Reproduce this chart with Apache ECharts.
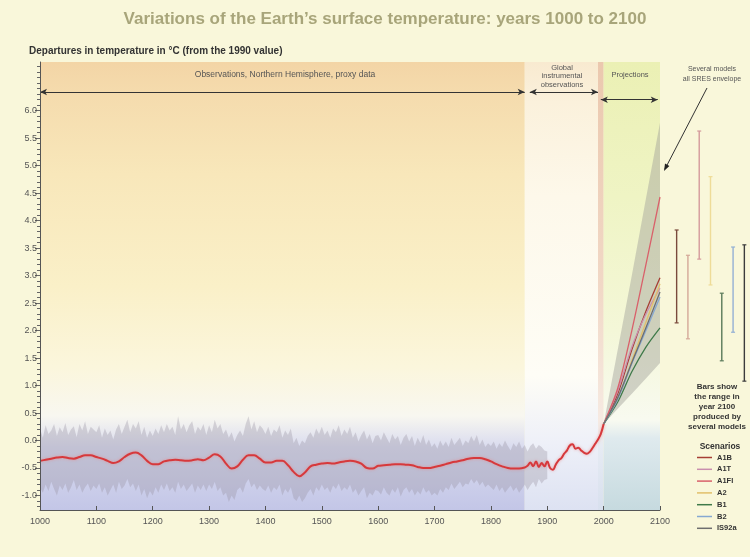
<!DOCTYPE html>
<html><head><meta charset="utf-8">
<script src="https://cdn.jsdelivr.net/npm/echarts@6/dist/echarts.min.js"></script>
<style>html,body{margin:0;padding:0;background:#f9f7da}#c{width:750px;height:557px}</style>
</head><body><div id="c"></div>
<script>
// ---------- DATA ----------
const yTicks = [-1.0,-0.5,0.0,0.5,1.0,1.5,2.0,2.5,3.0,3.5,4.0,4.5,5.0,5.5,6.0];
const xTicksInterval = 100;

// Smoothed proxy (1000-1860) + instrumental (1865-2000) record
const obsYears = [
 1000,1010,1020,1030,1040,1050,1060,1070,1080,1090,
 1100,1110,1120,1130,1140,1150,1160,1170,1180,1190,
 1200,1210,1220,1230,1240,1250,1260,1270,1280,1290,
 1300,1310,1320,1330,1340,1350,1360,1370,1380,1390,
 1400,1410,1420,1430,1440,1450,1460,1470,1480,1490,
 1500,1510,1520,1530,1540,1550,1560,1570,1580,1590,
 1600,1610,1620,1630,1640,1650,1660,1670,1680,1690,
 1700,1710,1720,1730,1740,1750,1760,1770,1780,1790,
 1800,1810,1820,1830,1840,1850,1860,
 1865,1870,1875,1880,1885,1890,1895,1900,1905,1910,1915,1920,1925,1930,
 1935,1940,1945,1950,1955,1960,1965,1970,1975,1980,1985,1990,1995,2000];
const obsTemp = [
 -0.37,-0.35,-0.33,-0.31,-0.30,-0.32,-0.33,-0.30,-0.27,-0.27,
 -0.30,-0.33,-0.37,-0.41,-0.38,-0.30,-0.24,-0.22,-0.27,-0.37,
 -0.43,-0.43,-0.38,-0.36,-0.35,-0.36,-0.37,-0.36,-0.34,-0.36,
 -0.31,-0.25,-0.29,-0.42,-0.51,-0.47,-0.35,-0.27,-0.27,-0.33,
 -0.40,-0.40,-0.37,-0.37,-0.45,-0.57,-0.65,-0.58,-0.47,-0.44,
 -0.42,-0.41,-0.42,-0.40,-0.38,-0.37,-0.38,-0.42,-0.50,-0.51,
 -0.46,-0.45,-0.44,-0.43,-0.43,-0.44,-0.45,-0.48,-0.50,-0.50,
 -0.48,-0.46,-0.43,-0.40,-0.38,-0.36,-0.33,-0.32,-0.32,-0.34,
 -0.38,-0.43,-0.47,-0.50,-0.51,-0.51,-0.49,
 -0.46,-0.40,-0.47,-0.38,-0.48,-0.41,-0.47,-0.38,-0.50,-0.53,-0.44,-0.36,-0.32,-0.24,
 -0.18,-0.09,-0.07,-0.15,-0.13,-0.18,-0.22,-0.24,-0.21,-0.14,-0.06,0.02,0.12,0.30];

// Uncertainty band of proxy record (upper / lower edge)
const bandYears = [
 1000,1005,1010,1015,1020,1025,1030,1035,1040,1045,1050,1055,1060,1065,1070,1075,1080,1085,1090,1095,
 1100,1105,1110,1115,1120,1125,1130,1135,1140,1145,1150,1155,1160,1165,1170,1175,1180,1185,1190,1195,
 1200,1205,1210,1215,1220,1225,1230,1235,1240,1245,1250,1255,1260,1265,1270,1275,1280,1285,1290,1295,
 1300,1305,1310,1315,1320,1325,1330,1335,1340,1345,1350,1355,1360,1365,1370,1375,1380,1385,1390,1395,
 1400,1405,1410,1415,1420,1425,1430,1435,1440,1445,1450,1455,1460,1465,1470,1475,1480,1485,1490,1495,
 1500,1505,1510,1515,1520,1525,1530,1535,1540,1545,1550,1555,1560,1565,1570,1575,1580,1585,1590,1595,
 1600,1605,1610,1615,1620,1625,1630,1635,1640,1645,1650,1655,1660,1665,1670,1675,1680,1685,1690,1695,
 1700,1705,1710,1715,1720,1725,1730,1735,1740,1745,1750,1755,1760,1765,1770,1775,1780,1785,1790,1795,
 1800,1805,1810,1815,1820,1825,1830,1835,1840,1845,1850,1855,1860,1865,1870,1875,1880,1885,1890,1895,
 1900];
const bandHigh = [
 0.22,0.05,0.28,0.12,0.18,0.30,0.08,0.24,0.15,0.32,0.10,0.20,0.26,0.06,0.30,0.18,0.35,0.12,0.25,0.20,
 0.15,0.28,0.05,0.22,0.10,0.18,0.02,0.20,0.30,0.12,0.25,0.38,0.15,0.30,0.22,0.35,0.10,0.25,0.05,0.18,
 0.08,0.22,0.12,0.28,0.15,0.30,0.18,0.25,0.10,0.44,0.20,0.30,0.15,0.28,0.35,0.12,0.25,0.18,0.30,0.10,
 0.28,0.15,0.38,0.22,0.30,0.12,0.20,0.05,0.15,-0.02,0.10,0.18,0.08,0.30,0.44,0.20,0.35,0.15,0.28,0.22,
 0.12,0.25,0.08,0.20,0.15,0.28,0.05,0.18,0.10,0.22,-0.05,0.05,-0.10,0.00,-0.05,0.08,0.15,0.05,0.22,0.12,
 0.25,0.10,0.18,0.05,0.22,0.15,0.28,0.08,0.20,0.12,0.25,0.05,0.15,-0.02,0.10,0.18,0.02,0.12,-0.05,0.08,
 0.10,0.00,0.15,0.05,-0.05,0.12,0.02,0.08,-0.08,0.05,0.12,-0.02,0.08,-0.10,0.05,-0.05,0.10,-0.08,0.02,-0.12,
 -0.05,-0.15,0.00,-0.10,-0.02,-0.12,0.05,-0.08,-0.02,0.05,-0.10,0.00,-0.05,0.08,-0.02,0.10,-0.08,0.02,-0.12,-0.05,
 -0.10,-0.02,-0.15,-0.05,-0.12,0.00,-0.10,-0.18,-0.05,-0.12,-0.02,-0.15,-0.08,-0.20,-0.10,-0.05,-0.15,-0.08,-0.12,-0.18,
 -0.20];
const bandLow = [
 -0.85,-0.95,-0.80,-0.92,-0.75,-0.88,-1.00,-0.82,-0.90,-0.78,-0.95,-0.85,-0.72,-0.90,-0.80,-0.95,-0.85,-0.78,-0.92,-0.82,
 -0.88,-0.78,-0.95,-0.85,-1.00,-0.90,-0.80,-0.95,-0.75,-0.88,-0.82,-0.70,-0.85,-0.78,-0.92,-0.80,-1.00,-0.88,-1.05,-0.92,
 -1.00,-0.85,-0.95,-0.80,-0.90,-0.78,-0.92,-0.85,-0.95,-0.75,-0.88,-0.80,-0.92,-0.85,-0.78,-0.95,-0.82,-0.90,-0.80,-0.92,
 -0.80,-0.88,-0.75,-0.92,-0.85,-1.00,-0.95,-1.12,-1.00,-1.08,-0.90,-0.85,-0.95,-0.78,-0.70,-0.85,-0.78,-0.90,-0.82,-0.88,
 -0.92,-0.82,-0.95,-0.85,-0.90,-0.80,-1.00,-0.88,-0.95,-0.85,-1.05,-1.10,-1.00,-1.12,-1.05,-0.95,-0.88,-1.00,-0.85,-0.92,
 -0.80,-0.90,-0.85,-0.95,-0.82,-0.88,-0.78,-0.92,-0.85,-0.90,-0.80,-0.95,-0.88,-1.00,-0.92,-0.85,-1.05,-0.95,-1.00,-0.90,
 -0.92,-0.98,-0.85,-0.95,-1.00,-0.88,-0.95,-0.85,-1.02,-0.90,-0.85,-0.95,-0.88,-1.00,-0.92,-0.98,-0.85,-0.95,-0.90,-1.00,
 -0.95,-1.00,-0.88,-0.95,-0.85,-0.90,-0.78,-0.88,-0.82,-0.75,-0.85,-0.78,-0.80,-0.70,-0.78,-0.72,-0.82,-0.75,-0.85,-0.80,
 -0.85,-0.90,-0.80,-0.92,-0.85,-0.95,-0.88,-0.82,-0.92,-0.85,-0.95,-0.88,-0.80,-0.90,-0.82,-0.75,-0.85,-0.70,-0.78,-0.72,
 -0.70];

// Projections 2000-2100
const projYears = [2000, 2025, 2050, 2075, 2100];
const scenarios = ['A1B','A1T','A1FI','A2','B1','B2','IS92a'];
const projA1B  = [0.30, 0.85, 1.65, 2.35, 2.96];
const projA1T  = [0.30, 0.90, 1.70, 2.30, 2.77];
const projA1FI = [0.30, 0.95, 2.00, 3.20, 4.43];
const projA2   = [0.30, 0.75, 1.45, 2.15, 2.85];
const projB1   = [0.30, 0.70, 1.25, 1.70, 2.05];
const projB2   = [0.30, 0.75, 1.40, 2.00, 2.61];
const projIS92a= [0.30, 0.78, 1.42, 2.05, 2.70];
const envHigh  = [0.30, 1.65, 3.00, 4.40, 5.78];
const envLow   = [0.30, 0.58, 0.85, 1.13, 1.41];

// Range in year 2100 from several models (bars)
const rangeLow  = [2.14, 1.85, 3.30, 2.83, 1.45, 1.97, 1.08];
const rangeHigh = [3.83, 3.37, 5.63, 4.80, 2.68, 3.52, 3.56];

// Period annotation spans (years)
const periodObs   = [1000, 1860];
const periodInstr = [1869, 1990];
const periodProj  = [1995, 2096];

// ---------- STYLE ----------
const FONT = '"Liberation Sans", Arial, sans-serif';
const yMin = -1.264, yMax = 6.886;
const lineColors = {A1B:'#a63e34', A1T:'#c98fae', A1FI:'#d9606a', A2:'#e2c06a', B1:'#3f7a4a', B2:'#86a8d2', IS92a:'#6e6e6e'};
const barColors = ['#7a4a3c','#d4a898','#d49a9c','#eedc98','#5a7a5a','#94b0d4','#3c3c3c'];
const projData = {A1B:projA1B, A1T:projA1T, A1FI:projA1FI, A2:projA2, B1:projB1, B2:projB2, IS92a:projIS92a};

const minorTicks = [];
for (let i = -12; i <= 68; i++) minorTicks.push(i / 10);

const zip = (xs, ys) => xs.map((x, i) => [x, ys[i]]);
const LG = (stops) => new echarts.graphic.LinearGradient(0, 0, 0, 1, stops.map(s => ({offset: s[0], color: s[1]})));

// filled range between two edges, drawn through the axis scales as one polygon
function makeBandSeries(name, xs, lo, hi, fill, opacity, z) {
  const data = xs.map((x, i) => [x, lo[i], hi[i]]);
  return {
    name, type: 'custom', xAxisIndex: 0, yAxisIndex: 0, silent: true, z,
    data, encode: {x: 0, y: [1, 2]},
    renderItem: function (params, api) {
      if (params.dataIndex !== 0) return null;
      const pts = [];
      for (let i = 0; i < data.length; i++) pts.push(api.coord([data[i][0], data[i][2]]));
      for (let i = data.length - 1; i >= 0; i--) pts.push(api.coord([data[i][0], data[i][1]]));
      return {type: 'polygon', shape: {points: pts}, style: {fill: fill, opacity: opacity}};
    }
  };
}

const chart = echarts.init(document.getElementById('c'), null, {renderer: 'canvas'});

const scenarioSeries = scenarios.map(name => ({
  name, type: 'line', xAxisIndex: 0, yAxisIndex: 0,
  data: zip(projYears, projData[name]), smooth: 0.3, symbol: 'none',
  color: lineColors[name], lineStyle: {width: 1.3, color: lineColors[name]}, z: 4, silent: true
}));

const bandSeries = makeBandSeries('proxyRange', bandYears, bandLow, bandHigh, '#958e9e', 0.33, 2);
bandSeries.markArea = {silent: true, z: 1, label: {show: false},
  data: [
    [{xAxis: 1000, itemStyle: {color: LG([[0,'#f3d5a6'],[0.08,'#f5dcae'],[0.25,'#f8e7ba'],[0.5,'#faf0c8'],[0.68,'#fbf6dc'],[0.79,'#f8f7f0'],[0.86,'#d9dbef'],[1,'#c3c6e7']])}}, {xAxis: 1860}],
    [{xAxis: 1860, itemStyle: {color: LG([[0,'#f8ead0'],[0.09,'#fbf1dc'],[0.3,'#fdf8ea'],[0.7,'#fefdf6'],[0.85,'#eef0f8'],[1,'#dde2f2']])}}, {xAxis: 1990}],
    [{xAxis: 1990, itemStyle: {color: LG([[0,'#ebc8ae'],[0.5,'#f1d8c6'],[0.8,'#f6eae2'],[0.86,'#e6ebf3'],[1,'#d8e0ee']])}}, {xAxis: 2000}],
    [{xAxis: 2000, itemStyle: {color: LG([[0,'#ebf0b4'],[0.3,'#eff4c4'],[0.6,'#f4f7d8'],[0.8,'#f8faf0'],[0.84,'#dfeaee'],[1,'#c6dadf']])}}, {xAxis: 2100}]
  ]};
const envSeries = makeBandSeries('envelope', projYears, envLow, envHigh, '#a0a09a', 0.45, 3);

const option = {
  animation: false,
  backgroundColor: '#f9f7da',
  textStyle: {fontFamily: FONT},
  title: [
    {text: 'Variations of the Earth\u2019s surface temperature: years 1000 to 2100', left: 385, textAlign: 'center', top: 11, padding: 0,
     textStyle: {fontSize: 17, fontWeight: 'bold', color: '#a8a57a', fontFamily: FONT}},
    {text: 'Departures in temperature in \u00B0C (from the 1990 value)', left: 29, top: 46, padding: 0,
     textStyle: {fontSize: 10, fontWeight: 'bold', color: '#333', fontFamily: FONT}},
    {text: 'Bars show\nthe range in\nyear 2100\nproduced by\nseveral models', left: 717, textAlign: 'center', top: 382, padding: 0,
     textStyle: {fontSize: 8, fontWeight: 'bold', color: '#333', lineHeight: 10, fontFamily: FONT}},
    {text: 'Scenarios', left: 720, textAlign: 'center', top: 442, padding: 0,
     textStyle: {fontSize: 8.5, fontWeight: 'bold', color: '#333', fontFamily: FONT}}
  ],
  legend: {
    data: scenarios, orient: 'vertical', left: 697, top: 453, padding: 0,
    icon: 'rect', itemWidth: 15, itemHeight: 1.5, itemGap: 2.8,
    textStyle: {fontSize: 7.5, fontWeight: 'bold', color: '#333', lineHeight: 9, padding: [0,0,0,0], fontFamily: FONT},
    selectedMode: false
  },
  grid: [
    {left: 40, right: 90, top: 62, bottom: 47},
    {left: 671, width: 82, top: 62, bottom: 47}
  ],
  xAxis: [
    {type: 'value', gridIndex: 0, min: 1000, max: 2100, interval: xTicksInterval, z: 10,
     axisLine: {onZero: false, lineStyle: {color: '#555', width: 1}},
     axisTick: {inside: true, length: 4, lineStyle: {color: '#555'}},
     axisLabel: {fontSize: 9, color: '#555', margin: 7, fontFamily: FONT, formatter: v => String(v)},
     splitLine: {show: false}},
    {type: 'category', gridIndex: 1, data: scenarios, show: false}
  ],
  yAxis: [
    {type: 'value', gridIndex: 0, position: 'left', min: yMin, max: yMax, z: 10,
     axisLine: {show: true, onZero: false, lineStyle: {color: '#555', width: 1}},
     axisTick: {show: true, length: 5, customValues: yTicks, lineStyle: {color: '#555'}},
     axisLabel: {customValues: yTicks, formatter: v => Number(v).toFixed(1), fontSize: 9, color: '#555', margin: 3, fontFamily: FONT},
     splitLine: {show: false}},
    {type: 'value', gridIndex: 0, position: 'left', min: yMin, max: yMax, z: 10,
     axisLine: {show: false, onZero: false},
     axisTick: {show: true, length: 3, customValues: minorTicks, lineStyle: {color: '#666'}},
     axisLabel: {show: false}, splitLine: {show: false}},
    {type: 'value', gridIndex: 1, min: yMin, max: yMax, show: false}
  ],
  graphic: [
    {type: 'text', z: 100, x: 285, y: 75, silent: true, style: {text: 'Observations, Northern Hemisphere, proxy data', align: 'center', verticalAlign: 'middle', fill: '#555', font: '8.5px ' + FONT}},
    {type: 'text', z: 100, x: 562, y: 76, silent: true, style: {text: 'Global\ninstrumental\nobservations', align: 'center', verticalAlign: 'middle', fill: '#555', font: '7.5px ' + FONT, lineHeight: 8.5}},
    {type: 'text', z: 100, x: 630, y: 75, silent: true, style: {text: 'Projections', align: 'center', verticalAlign: 'middle', fill: '#555', font: '7.5px ' + FONT}},
    {type: 'text', z: 100, x: 712, y: 74, silent: true, style: {text: 'Several models\nall SRES envelope', align: 'center', verticalAlign: 'middle', fill: '#555', font: '7px ' + FONT, lineHeight: 10.5}},
    {type: 'line', z: 100, silent: true, shape: {x1: 707, y1: 88, x2: 665, y2: 169}, style: {stroke: '#333', lineWidth: 1}},
    {type: 'polygon', z: 100, silent: true, shape: {points: [[664,171],[669.4,165.9],[665.0,163.6]]}, style: {fill: '#222'}}
  ],
  series: [
    bandSeries,
    envSeries,
    ...scenarioSeries,
    {name: 'observed', type: 'line', xAxisIndex: 0, yAxisIndex: 0, data: zip(obsYears, obsTemp),
     smooth: 0.4, symbol: 'none', z: 5, silent: true,
     lineStyle: {width: 2, color: '#d6393c', shadowColor: 'rgba(235,130,130,0.7)', shadowBlur: 3},
     markLine: {silent: true, symbol: ['arrow', 'arrow'], symbolSize: [5, 7], label: {show: false},
       lineStyle: {color: '#333', width: 1, type: 'solid', shadowBlur: 0},
       data: [
         [{coord: [periodObs[0], 6.34]}, {coord: [periodObs[1], 6.34]}],
         [{coord: [periodInstr[0], 6.34]}, {coord: [periodInstr[1], 6.34]}],
         [{coord: [periodProj[0], 6.2]}, {coord: [periodProj[1], 6.2]}]
       ]}},
    {name: 'range2100', type: 'custom', xAxisIndex: 1, yAxisIndex: 2, silent: true, z: 5,
     data: rangeLow.map((v, i) => [i, v, rangeHigh[i]]),
     renderItem: function (params, api) {
       const lo = api.coord([api.value(0), api.value(1)]);
       const hi = api.coord([api.value(0), api.value(2)]);
       const c = barColors[params.dataIndex];
       return {type: 'group', children: [
         {type: 'line', shape: {x1: lo[0], y1: lo[1], x2: hi[0], y2: hi[1]}, style: {stroke: c, lineWidth: 1.4}},
         {type: 'line', shape: {x1: lo[0]-2, y1: lo[1], x2: lo[0]+2, y2: lo[1]}, style: {stroke: c, lineWidth: 1.2}},
         {type: 'line', shape: {x1: hi[0]-2, y1: hi[1], x2: hi[0]+2, y2: hi[1]}, style: {stroke: c, lineWidth: 1.2}}
       ]};
     }}
  ]
};
chart.setOption(option);
</script>
</body></html>
